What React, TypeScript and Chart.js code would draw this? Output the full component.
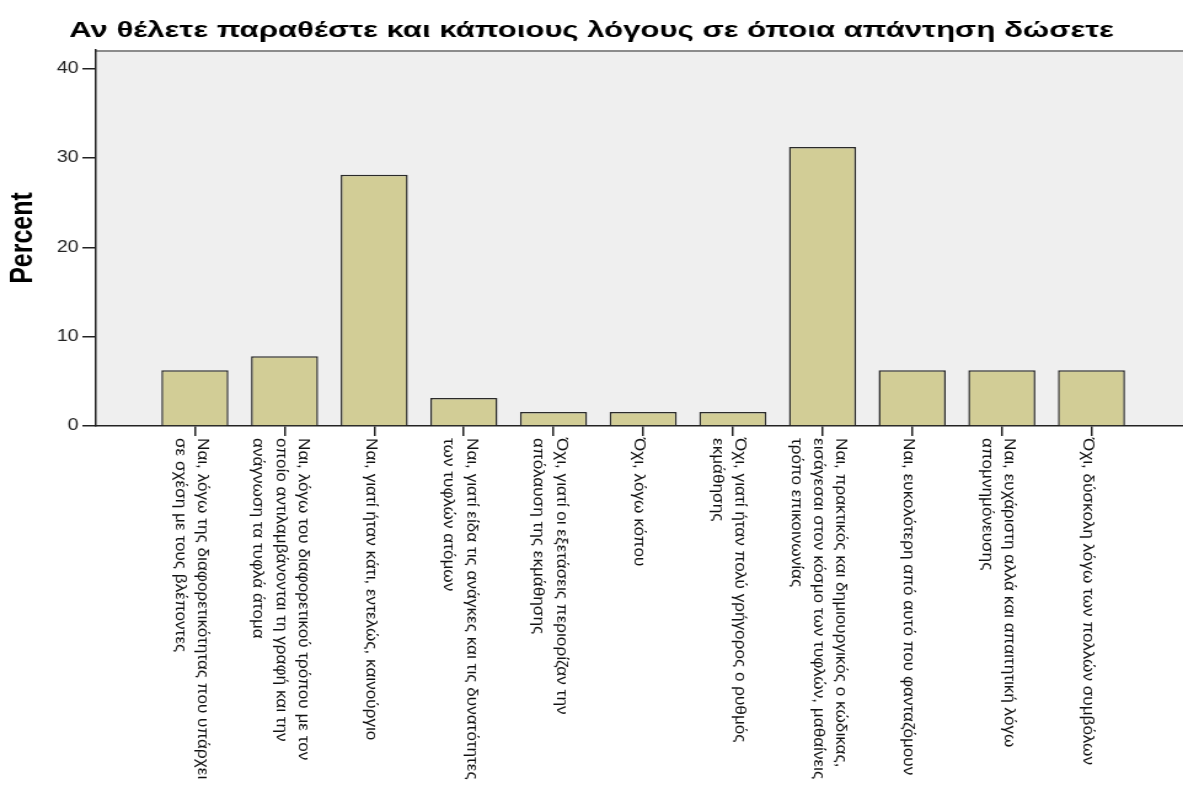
import React, { useEffect, useRef } from 'react';
import { Chart, registerables } from 'chart.js';

Chart.register(...registerables);

const TITLE = 'Αν θέλετε παραθέστε και κάποιους λόγους σε όποια απάντηση δώσετε';
const Y_TITLE = 'Percent';

const CATEGORIES: string[][] = [
  ['Ναι, λόγω της διαφορετικότητας που υπάρχει', 'σε σχέση με τους βλέποντες'],
  ['Ναι, λόγω του διαφορετικού τρόπου με τον', 'οποίο αντιλαμβάνονται τη γραφή και την', 'ανάγνωση τα τυφλά άτομα'],
  ['Ναι, γιατί ήταν κάτι, εντελώς, καινούργιο'],
  ['Ναι, γιατί είδα τις ανάγκες και τις δυνατότητες', 'των τυφλών ατόμων'],
  ['Όχι, γιατί οι εξετάσεις περιορίζαν την', 'απόλαυση της εκμάθησης'],
  ['Όχι, λόγω κόπου'],
  ['Όχι, γιατί ήταν πολύ γρήγορος ο ρυθμός', 'εκμάθησης'],
  ['Ναι, πρακτικός και δημιουργικός ο κώδικας,', 'εισάγεσαι στον κόσμο των τυφλών, μαθαίνεις', 'τρόπο επικοινωνίας'],
  ['Ναι, ευκολότερη από αυτό που φανταζόμουν'],
  ['Ναι, ευχάριστη αλλά και απαιτητική λόγω', 'απομνημόνευσης'],
  ['Όχι, δύσκολη λόγω των πολλών συμβόλων'],
];

const PERCENT: number[] = [6.25, 7.81, 28.13, 3.13, 1.56, 1.56, 1.56, 31.25, 6.25, 6.25, 6.25];

const Y_TICKS: number[] = [0, 10, 20, 30, 40];

const PAGE_W = 1183;
const PAGE_H = 805;
const STRETCH = 1.23;
const CANVAS_W = Math.round(PAGE_W / STRETCH);
const FONT = '"Liberation Sans", Arial, sans-serif';
const LABEL_LINE_H = 18.3;
const LABEL_FONT = 13.5;
const LABEL_SX = 1.27;
const TITLE_FONT = 22;
const TITLE_SX = 1.15;

const plotBgPlugin = {
  id: 'plotBg',
  beforeDraw(chart: any) {
    const { ctx, chartArea: a } = chart;
    ctx.save();
    ctx.fillStyle = '#efefef';
    ctx.fillRect(a.left, a.top, a.right - a.left, a.bottom - a.top);
    ctx.strokeStyle = '#8c8c8c';
    ctx.lineWidth = 2;
    ctx.beginPath();
    ctx.moveTo(a.left, a.top + 1);
    ctx.lineTo(a.right, a.top + 1);
    ctx.stroke();
    ctx.restore();
  },
};

const titlePlugin = {
  id: 'stretchedTitle',
  afterDraw(chart: any) {
    const ctx = chart.ctx;
    ctx.save();
    ctx.font = `bold ${TITLE_FONT}px ${FONT}`;
    ctx.fillStyle = '#000';
    ctx.textAlign = 'center';
    ctx.textBaseline = 'alphabetic';
    ctx.translate(chart.width / 2, 37);
    ctx.scale(TITLE_SX, 1);
    ctx.fillText(TITLE, 0, 0);
    ctx.restore();
  },
};

const xLabelsPlugin = {
  id: 'xLabels',
  afterDraw(chart: any) {
    const xs = chart.scales.x;
    const ctx = chart.ctx;
    const top = chart.chartArea.bottom + 12;
    ctx.save();
    ctx.font = `${LABEL_FONT}px ${FONT}`;
    ctx.fillStyle = '#111';
    ctx.textAlign = 'left';
    ctx.textBaseline = 'middle';
    CATEGORIES.forEach((lines, i) => {
      const x = xs.getPixelForValue(i);
      ctx.save();
      ctx.translate(x, top);
      ctx.rotate(Math.PI / 2);
      ctx.scale(LABEL_SX, 1);
      const n = lines.length;
      lines.forEach((line, j) => {
        const yy = (j - (n - 1) / 2) * LABEL_LINE_H + 3;
        ctx.fillText(line, 0, yy);
      });
      ctx.restore();
    });
    ctx.restore();
  },
};

export default function App() {
  const ref = useRef<HTMLCanvasElement | null>(null);

  useEffect(() => {
    if (!ref.current) return;
    const chart = new Chart(ref.current, {
      type: 'bar',
      data: {
        datasets: [
          {
            data: PERCENT.map((v, i) => ({ x: i, y: v })),
            backgroundColor: '#d2cd96',
            borderColor: '#2a2a2a',
            borderWidth: 1.5,
            categoryPercentage: 1,
            barPercentage: 0.748,
          },
        ],
      },
      options: {
        responsive: false,
        animation: false,
        devicePixelRatio: 1,
        layout: { padding: { top: 50, left: 0, right: 0, bottom: 0 } },
        plugins: {
          legend: { display: false },
          tooltip: { enabled: false },
          title: { display: false },
        },
        scales: {
          x: {
            type: 'linear',
            offset: false,
            min: -1.104,
            max: 11.021,
            grid: { display: true, offset: false, drawOnChartArea: false, drawTicks: true, tickLength: 10, color: '#222', lineWidth: 1.5 },
            border: { display: true, color: '#222', width: 1.5 },
            ticks: { display: false },
            afterBuildTicks: (s: any) => {
              s.ticks = CATEGORIES.map((_, i) => ({ value: i }));
            },
            afterFit: (s: any) => {
              s.height = PAGE_H - 426;
            },
          },
          y: {
            min: 0,
            max: 42.1,
            grid: { display: true, drawOnChartArea: false, drawTicks: true, tickLength: 11, color: '#222', lineWidth: 1.5 },
            border: { display: true, color: '#222', width: 1.5 },
            ticks: { font: { family: FONT, size: 16 }, color: '#222', padding: 3 },
            afterBuildTicks: (s: any) => {
              s.ticks = Y_TICKS.map((v) => ({ value: v }));
            },
            title: {
              display: true,
              text: Y_TITLE,
              color: '#000',
              font: { family: FONT, size: 25, weight: 'bold' },
              padding: { top: 4, bottom: 4 },
            },
            afterFit: (s: any) => {
              s.width = 78;
            },
          },
        },
      },
      plugins: [plotBgPlugin, titlePlugin, xLabelsPlugin],
    } as any);
    return () => chart.destroy();
  }, []);

  return (
    <div style={{ position: 'fixed', left: 0, top: 0, width: PAGE_W, height: PAGE_H, overflow: 'hidden', background: '#fff' }}>
      <canvas
        ref={ref}
        width={CANVAS_W}
        height={PAGE_H}
        style={{ width: `${PAGE_W}px`, height: `${PAGE_H}px`, display: 'block' }}
      />
    </div>
  );
}
